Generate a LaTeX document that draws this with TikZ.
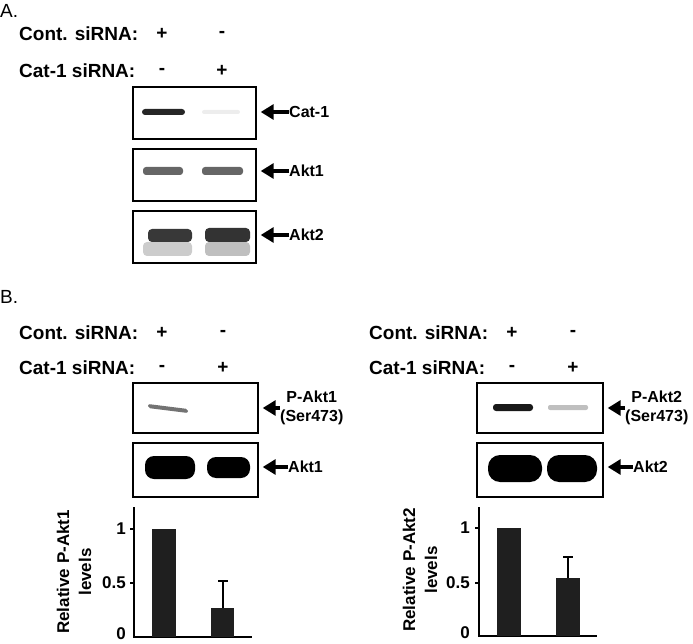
\documentclass[tikz,border=0pt]{standalone}
\usepackage{fontspec}
\setmainfont{Liberation Sans}
\usetikzlibrary{arrows.meta}
\tikzset{
	blot/.style={draw,line width=2.4pt,inner sep=0pt},
	tag/.style={font=\bfseries\fontsize{16}{19}\selectfont,inner sep=0pt,anchor=west,align=center},
	cond/.style={font=\bfseries\fontsize{19}{22}\selectfont,inner sep=0pt},
	panel/.style={font=\fontsize{19}{22}\selectfont,inner sep=0pt,anchor=west},
	larr/.style={-{Triangle[length=13pt,width=15pt]},line width=4pt,shorten >=3.5pt},
	axis/.style={line width=2pt},
	bar/.style={fill=black!88},
	ticklbl/.style={font=\bfseries\fontsize{17}{19}\selectfont,inner sep=0pt,anchor=east},
	ylab/.style={font=\bfseries\fontsize{17}{22}\selectfont,align=center,rotate=90,inner sep=0pt}
}
\begin{document}
\begin{tikzpicture}[x=1pt,y=-1pt]
	\useasboundingbox (0,0) rectangle (693,644);
	% panel A
	\node[panel] (pA) at (0,11) {A.};
	\node[cond,anchor=west] (acont) at (19,34) {Cont. siRNA:};
	\node[cond] (acontp) at (162,34) {+};
	\node[cond] (acontm) at (222,34) {-};
	\node[cond,anchor=west] (acat) at (19,71) {Cat-1 siRNA:};
	\node[cond] (acatm) at (162,71) {-};
	\node[cond] (acatp) at (222,71) {+};
	\node[blot,minimum width=123pt,minimum height=52pt] (bcat) at (194.5,113) {};
	\node[blot,minimum width=123pt,minimum height=52pt] (bakt1) at (194.5,175) {};
	\node[blot,minimum width=123pt,minimum height=52pt] (bakt2) at (194.5,237) {};
	\fill[black!85,rounded corners=3pt] (142,109) rectangle (185,115);
	\fill[black!7,rounded corners=2pt] (202,110) rectangle (240,114);
	\fill[black!60,rounded corners=3pt] (143,167) rectangle (183,175);
	\fill[black!60,rounded corners=3pt] (202,167) rectangle (243,175);
	\fill[black!20,rounded corners=4pt] (143,242) rectangle (192,256);
	\fill[black!25,rounded corners=4pt] (205,242) rectangle (250,256);
	\fill[black!78,rounded corners=4pt] (148,229) rectangle (192,242);
	\fill[black!80,rounded corners=4pt] (205,228) rectangle (250,242);
	\node[tag] (lcat) at (289,112) {Cat-1};
	\node[tag] (lakt1) at (289,171) {Akt1};
	\node[tag] (lakt2) at (289,235) {Akt2};
	\draw[larr] (lcat.west) -- (bcat.east |- lcat.west);
	\draw[larr] (lakt1.west) -- (bakt1.east |- lakt1.west);
	\draw[larr] (lakt2.west) -- (bakt2.east |- lakt2.west);
	% panel B, Akt1
	\node[panel] (pB) at (0,297) {B.};
	\node[cond,anchor=west] (bcont) at (19,333) {Cont. siRNA:};
	\node[cond] (bcontp) at (162,333) {+};
	\node[cond] (bcontm) at (223,333) {-};
	\node[cond,anchor=west] (bcatl) at (19,368) {Cat-1 siRNA:};
	\node[cond] (bcatm) at (162,368) {-};
	\node[cond] (bcatp) at (223,368) {+};
	\node[blot,minimum width=125pt,minimum height=50pt] (bpakt1) at (195.5,408) {};
	\node[blot,minimum width=125pt,minimum height=54pt] (btakt1) at (195.5,470) {};
	\fill[black!55,rounded corners=2pt] (148,404) -- (188,409) -- (188,413) -- (148,408) -- cycle;
	\fill[black,rounded corners=9pt] (145,456) rectangle (195,479);
	\fill[black,rounded corners=9pt] (207,457) rectangle (250,478);
	\node[tag] (lpakt1) at (280,408) {P-Akt1\\(Ser473)};
	\node[tag] (ltakt1) at (288,467) {Akt1};
	\draw[larr] (lpakt1.west) -- (bpakt1.east |- lpakt1.west);
	\draw[larr] (ltakt1.west) -- (btakt1.east |- ltakt1.west);
	\draw[axis] (134,507) -- (134,637) -- (252,637);
	\draw[axis] (130,529) -- (134,529);
	\draw[axis] (130,583) -- (134,583);
	\node[ticklbl] (ta1) at (126,529) {1};
	\node[ticklbl] (ta5) at (126,583) {0.5};
	\node[ticklbl] (ta0) at (126,634) {0};
	\fill[bar] (152,637) rectangle (176,529);
	\fill[bar] (211,637) rectangle (234,608);
	\draw[axis] (223,608) -- (223,581);
	\draw[axis] (218,581) -- (228,581);
	\node[ylab] (yla) at (74,572) {Relative P-Akt1\\levels};
	% panel B, Akt2
	\node[cond,anchor=west] (ccont) at (369,333) {Cont. siRNA:};
	\node[cond] (ccontp) at (512,333) {+};
	\node[cond] (ccontm) at (573,333) {-};
	\node[cond,anchor=west] (ccatl) at (369,368) {Cat-1 siRNA:};
	\node[cond] (ccatm) at (512,368) {-};
	\node[cond] (ccatp) at (573,368) {+};
	\node[blot,minimum width=126pt,minimum height=50pt] (bpakt2) at (540,408) {};
	\node[blot,minimum width=126pt,minimum height=54pt] (btakt2) at (540,470) {};
	\fill[black!90,rounded corners=3pt] (493,404) rectangle (533,411);
	\fill[black!25,rounded corners=2pt] (548,405) rectangle (588,410);
	\fill[black,rounded corners=12pt] (488,455) rectangle (542,482);
	\fill[black,rounded corners=12pt] (547,455) rectangle (597,482);
	\node[tag] (lpakt2) at (625,408) {P-Akt2\\(Ser473)};
	\node[tag] (ltakt2) at (633,467) {Akt2};
	\draw[larr] (lpakt2.west) -- (bpakt2.east |- lpakt2.west);
	\draw[larr] (ltakt2.west) -- (btakt2.east |- ltakt2.west);
	\draw[axis] (479,507) -- (479,636) -- (597,636);
	\draw[axis] (475,528) -- (479,528);
	\draw[axis] (475,583) -- (479,583);
	\node[ticklbl] (tb1) at (470,528) {1};
	\node[ticklbl] (tb5) at (470,583) {0.5};
	\node[ticklbl] (tb0) at (470,633) {0};
	\fill[bar] (497,636) rectangle (521,528);
	\fill[bar] (556,636) rectangle (580,578);
	\draw[axis] (568,578) -- (568,557);
	\draw[axis] (563,557) -- (573,557);
	\node[ylab] (ylb) at (420,570) {Relative P-Akt2\\levels};
\end{tikzpicture}
\end{document}
